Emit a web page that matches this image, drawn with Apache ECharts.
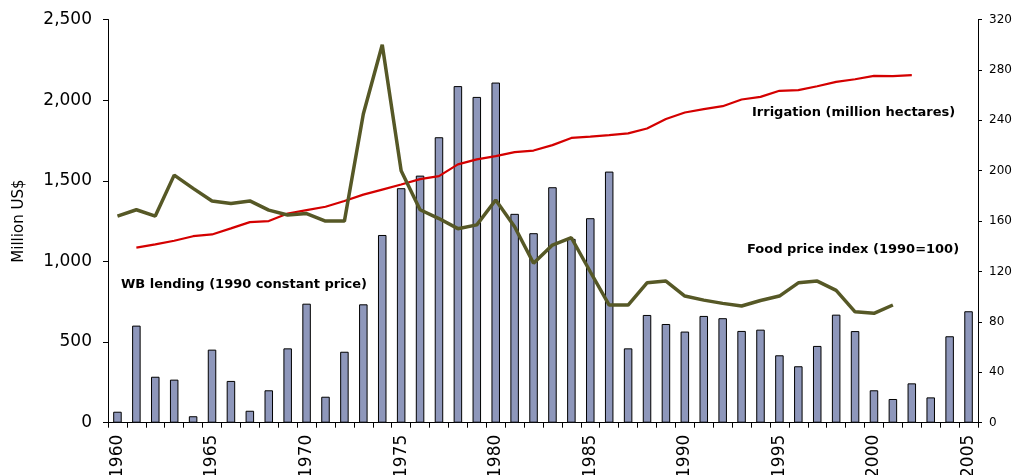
<!DOCTYPE html>
<html>
<head>
<meta charset="utf-8">
<script src="https://cdn.jsdelivr.net/npm/echarts@6/dist/echarts.min.js"></script>
<style>
html,body{margin:0;padding:0;background:#fff;}
#chart{width:1016px;height:475px;}
</style>
</head>
<body>
<div id="chart"></div>
<script>
var years = [];
for (var y = 1960; y <= 2005; y++) years.push(String(y));

var wbLending = [68,602,285,267,40,453,259,74,201,461,
                 738,161,440,734,1164,1454,1532,1770,2087,2020,
                 2109,1295,1175,1460,1140,1268,1557,461,668,612,
                 565,662,648,569,577,418,350,476,670,568,
                 201,147,244,157,536,691];

var foodPrice = [164,169,164,196.5,186,176,174,176,168.7,164.8,
                 166,160,160,245,300,200,169,162,154,157,
                 176.7,155.5,126.5,141,146.8,119.8,93.4,93.4,111,112.4,
                 100.5,97.3,94.7,92.6,97,100.5,111,112.4,105,88,
                 86.8,93.4,null,null,null,null];

var irrigation = [null,139,141.5,144.4,148,149.4,154.2,159.2,160,166,
                  168.7,171.4,176,181,185,189,193.3,195.7,205,209,
                  211.6,214.7,216,220.3,226,227,228.2,229.6,233.5,241,
                  246.2,248.9,251.2,256.5,258.6,263.4,264,267,270.5,272.6,
                  275.3,275,275.8,null,null,null];

var leftTicks = [0,500,1000,1500,2000,2500];
var rightTicks = [0,40,80,120,160,200,240,280,320];

var chart = echarts.init(document.getElementById('chart'), null, {renderer:'canvas'});
var FONT = 'DejaVu Sans';
chart.setOption({
  animation:false,
  backgroundColor:'#fff',
  grid:{left:108, right:38, top:19.5, bottom:52.3, containLabel:false, outerBoundsMode:'none'},
  xAxis:{
    type:'category', data:years, boundaryGap:true,
    axisLine:{lineStyle:{color:'#000',width:1}},
    axisTick:{show:true, interval:0, length:5, inside:false, lineStyle:{color:'#000'}},
    axisLabel:{
      interval:function(i){return i%5===0;},
      rotate:90, margin:12, color:'#000', fontFamily:FONT, fontSize:17
    },
    splitLine:{show:false}
  },
  yAxis:[{
    type:'value', min:0, max:2500, interval:500, position:'left',
    name:'Million US$', nameLocation:'middle', nameGap:81, nameRotate:90,
    nameTextStyle:{fontFamily:FONT, fontSize:15, color:'#000'},
    axisLine:{show:true, lineStyle:{color:'#000',width:1}},
    axisTick:{show:true, length:5, lineStyle:{color:'#000'}},
    axisLabel:{margin:16, color:'#000', fontFamily:FONT, fontSize:17,
      formatter:function(v){return v.toLocaleString('en-US');}},
    splitLine:{show:false}
  },{
    type:'value', min:0, max:320, interval:40, position:'right',
    axisLine:{show:true, lineStyle:{color:'#000',width:1}},
    axisTick:{show:true, length:4, lineStyle:{color:'#000'}},
    axisLabel:{margin:11, color:'#000', fontFamily:FONT, fontSize:12},
    splitLine:{show:false}
  }],
  series:[{
    name:'WB lending', type:'bar', data:wbLending, yAxisIndex:0,
    barWidth:'45%',
    itemStyle:{color:'#8e97bb', borderColor:'#000', borderWidth:1}
  },{
    name:'Irrigation', type:'line', data:irrigation, yAxisIndex:1,
    showSymbol:false, symbol:'none', connectNulls:false,
    lineStyle:{color:'#d40000', width:2.2}, z:3
  },{
    name:'Food price index', type:'line', data:foodPrice, yAxisIndex:1,
    showSymbol:false, symbol:'none', connectNulls:false,
    lineStyle:{color:'#565826', width:3.5}, z:4
  }],
  graphic:[
    {type:'text', left:121, top:278, style:{text:'WB lending (1990 constant price)', font:'bold 13px "DejaVu Sans"', fill:'#000'}},
    {type:'text', left:752, top:106, style:{text:'Irrigation (million hectares)', font:'bold 13px "DejaVu Sans"', fill:'#000'}},
    {type:'text', left:747, top:243, style:{text:'Food price index (1990=100)', font:'bold 13px "DejaVu Sans"', fill:'#000'}}
  ]
});
</script>
</body>
</html>
